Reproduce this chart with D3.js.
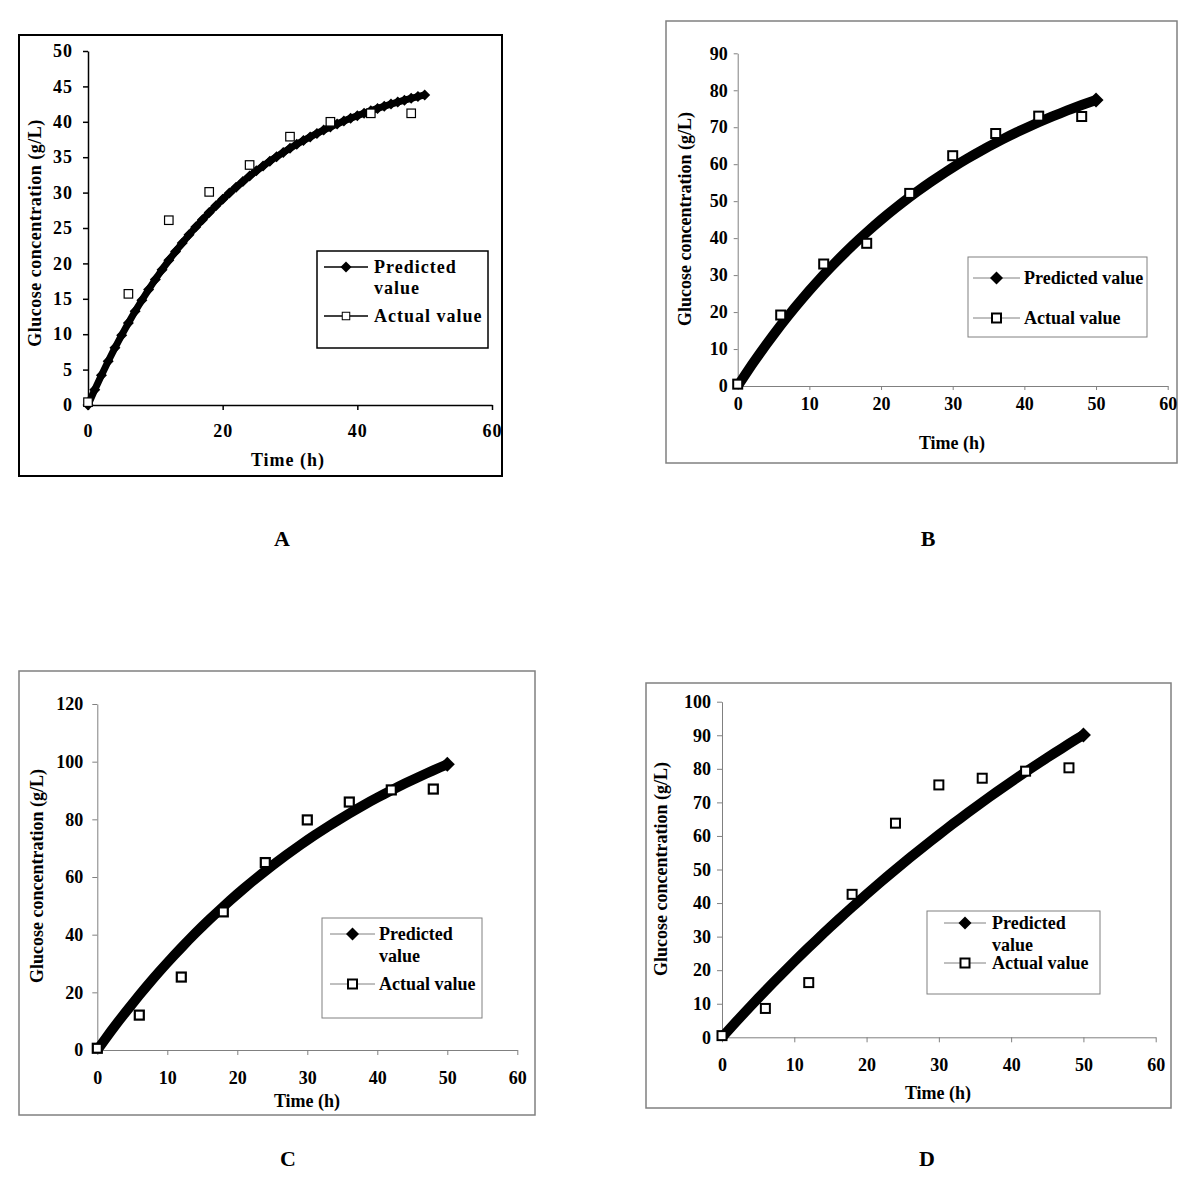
<!DOCTYPE html>
<html><head><meta charset="utf-8">
<script src="https://cdn.jsdelivr.net/npm/d3@7"></script>
<style>
body{margin:0;background:#fff}
svg{display:block}
text{font-family:"Liberation Serif","Times New Roman",serif;font-weight:bold;fill:#000}
</style>
</head><body>
<svg id="c" width="1200" height="1195"></svg>
<script>
// ---------- data ----------
const hours = [0,1,2,3,4,5,6,7,8,9,10,11,12,13,14,15,16,17,18,19,20,21,22,23,24,25,26,27,28,29,30,31,32,33,34,35,36,37,38,39,40,41,42,43,44,45,46,47,48,49,50];
const predA = [0,2.15,4.21,6.18,8.07,9.86,11.58,13.23,14.80,16.30,17.74,19.12,20.43,21.68,22.88,24.03,25.13,26.18,27.18,28.14,29.05,29.93,30.77,31.57,32.33,33.07,33.76,34.43,35.07,35.68,36.27,36.83,37.36,37.87,38.36,38.83,39.27,39.70,40.10,40.49,40.87,41.22,41.56,41.89,42.20,42.50,42.78,43.05,43.31,43.56,43.80];
const predB = [0,2.94,5.80,8.57,11.26,13.87,16.41,18.87,21.25,23.57,25.81,28.00,30.11,32.16,34.16,36.09,37.97,39.79,41.56,43.27,44.94,46.55,48.12,49.64,51.12,52.55,53.94,55.29,56.60,57.87,59.11,60.30,61.46,62.59,63.69,64.75,65.78,66.78,67.75,68.69,69.60,70.49,71.35,72.18,72.99,73.78,74.54,75.28,76.00,76.70,77.38];
const predC = [0,3.36,6.65,9.85,12.98,16.03,19.02,21.93,24.77,27.55,30.26,32.90,35.48,38.01,40.47,42.87,45.22,47.51,49.74,51.93,54.06,56.14,58.17,60.15,62.09,63.98,65.82,67.63,69.38,71.10,72.78,74.42,76.01,77.57,79.10,80.58,82.04,83.45,84.84,86.19,87.51,88.79,90.05,91.28,92.48,93.64,94.79,95.90,96.99,98.05,99.09];
const predD = [0,2.38,4.73,7.06,9.36,11.63,13.87,16.09,18.28,20.45,22.58,24.69,26.78,28.84,30.88,32.90,34.89,36.85,38.80,40.72,42.61,44.48,46.34,48.17,49.97,51.76,53.52,55.27,56.99,58.69,60.37,62.04,63.68,65.30,66.90,68.49,70.05,71.60,73.13,74.64,76.13,77.60,79.06,80.50,81.92,83.32,84.71,86.08,87.44,88.78,90.10];

const sampleHours = [0,6,12,18,24,30,36,42,48];
const actualA = [0.4,15.7,26.1,30.1,33.9,37.9,40.0,41.2,41.2];
const actualB = [0.5,19.2,33.0,38.6,52.1,62.3,68.3,73.0,72.9];
const actualC = [0.6,12.1,25.3,47.9,65.0,79.8,86.0,90.2,90.5];
const actualD = [0.5,8.6,16.3,42.6,63.8,75.2,77.2,79.3,80.3];

const xTicksA = [0,20,40,60];
const xTicksBCD = [0,10,20,30,40,50,60];
const yTicksA = [0,5,10,15,20,25,30,35,40,45,50];
const yTicksB = [0,10,20,30,40,50,60,70,80,90];
const yTicksC = [0,20,40,60,80,100,120];
const yTicksD = [0,10,20,30,40,50,60,70,80,90,100];

const yTitle = "Glucose concentration (g/L)";
const xTitle = "Time (h)";
const legendTwoLine = [["Predicted","value"],["Actual value"]];
const legendOneLine = [["Predicted value"],["Actual value"]];
const panelLabels = ["A","B","C","D"];

// ---------- layout ----------
const GRAY = "#808080";
const panels = [
  {label:panelLabels[0], pred:predA, actual:actualA, xTicks:xTicksA, yTicks:yTicksA,
   frame:[19,35,483,441], frameColor:"#000", frameWidth:2,
   plot:{l:88,r:492,t:51,b:405}, axisColor:"#000", axisWidth:1.5,
   tick:5, xPad:14, yPad:10, font:18, ls:1,
   yT:[35,233], xT:[288,460], lab:[282,538],
   dots:true, lineW:7, endD:5.5, sq:8.5, sqW:1.2,
   leg:{box:[317,251,171,97], color:"#000", w:1.5, line:[324,368], lineColor:"#000", lineW:1.5,
        diamond:5.5, sq:7.5, sqW:1, tx:374, labels:legendTwoLine, rows:[[267,288],[316]], ls:1}},
  {label:panelLabels[1], pred:predB, actual:actualB, xTicks:xTicksBCD, yTicks:yTicksB,
   frame:[666,21,511,442], frameColor:GRAY, frameWidth:1.5,
   plot:{l:737.7,r:1167.7,t:53.3,b:386}, axisColor:GRAY, axisWidth:1,
   tick:4, xPad:7, yPad:6, font:18, ls:0,
   yT:[685,219], xT:[952,443], lab:[928,538],
   dots:false, lineW:10, endD:7.5, sq:9, sqW:2,
   leg:{box:[968,257,179,80], color:GRAY, w:1, line:[973,1020], lineColor:GRAY, lineW:1,
        diamond:6.5, sq:9, sqW:2, tx:1024, labels:legendOneLine, rows:[[278],[318]], ls:0}},
  {label:panelLabels[2], pred:predC, actual:actualC, xTicks:xTicksBCD, yTicks:yTicksC,
   frame:[19,671,516,444], frameColor:GRAY, frameWidth:1.5,
   plot:{l:97.3,r:517.3,t:704,b:1050}, axisColor:GRAY, axisWidth:1,
   tick:5, xPad:16, yPad:9, font:18, ls:0,
   yT:[37,876], xT:[307,1101], lab:[288,1158],
   dots:false, lineW:10, endD:7.5, sq:9, sqW:2.2,
   leg:{box:[322,918,160,100], color:GRAY, w:1, line:[330,375], lineColor:GRAY, lineW:1,
        diamond:6.5, sq:9, sqW:2, tx:379, labels:legendTwoLine, rows:[[934,956],[984]], ls:0}},
  {label:panelLabels[3], pred:predD, actual:actualD, xTicks:xTicksBCD, yTicks:yTicksD,
   frame:[646,683,525,425], frameColor:GRAY, frameWidth:1.5,
   plot:{l:722,r:1155.7,t:701.7,b:1037.3}, axisColor:GRAY, axisWidth:1,
   tick:5, xPad:16, yPad:6, font:18, ls:0,
   yT:[661,869], xT:[938,1093], lab:[927,1158],
   dots:false, lineW:10, endD:7.5, sq:9, sqW:2,
   leg:{box:[927,911,173,83], color:GRAY, w:1, line:[944,986], lineColor:GRAY, lineW:1,
        diamond:6.5, sq:9, sqW:2, tx:992, labels:legendTwoLine, rows:[[923,945],[963]], ls:0}}
];

const svg = d3.select("#c");
const diamondPath = r => `M0,${-r}L${r},0L0,${r}L${-r},0Z`;

panels.forEach((p,pi) => {
  const g = svg.append("g");
  // frame
  g.append("rect").attr("x",p.frame[0]).attr("y",p.frame[1]).attr("width",p.frame[2]).attr("height",p.frame[3])
    .attr("fill","none").attr("stroke",p.frameColor).attr("stroke-width",p.frameWidth);

  const x = d3.scaleLinear().domain([0,60]).range([p.plot.l,p.plot.r]);
  const yMax = p.yTicks[p.yTicks.length-1];
  const y = d3.scaleLinear().domain([0,yMax]).range([p.plot.b,p.plot.t]);

  const xa = g.append("g").attr("transform",`translate(0,${p.plot.b})`)
    .call(d3.axisBottom(x).tickValues(p.xTicks).tickSize(p.tick).tickSizeOuter(0).tickPadding(p.xPad).tickFormat(d3.format("d")));
  const ya = g.append("g").attr("transform",`translate(${p.plot.l},0)`)
    .call(d3.axisLeft(y).tickValues(p.yTicks).tickSize(p.tick).tickSizeOuter(0).tickPadding(p.yPad).tickFormat(d3.format("d")));
  [xa,ya].forEach(a => {
    a.select(".domain").attr("stroke",p.axisColor).attr("stroke-width",p.axisWidth);
    a.selectAll(".tick line").attr("stroke",p.axisColor).attr("stroke-width",p.axisWidth);
    a.selectAll(".tick text").attr("fill","#000")
      .style("font-family",'"Liberation Serif","Times New Roman",serif').style("font-weight","bold")
      .style("font-size",p.font+"px").style("letter-spacing",p.ls+"px");
  });

  // titles
  g.append("text").attr("transform",`translate(${p.yT[0]},${p.yT[1]}) rotate(-90)`)
    .attr("text-anchor","middle").attr("dominant-baseline","central")
    .style("font-size","18px").style("letter-spacing",p.ls*0.5+"px").text(yTitle);
  g.append("text").attr("x",p.xT[0]).attr("y",p.xT[1]).attr("text-anchor","middle").attr("dominant-baseline","central")
    .style("font-size","18px").style("letter-spacing",p.ls+"px").text(xTitle);
  g.append("text").attr("x",p.lab[0]).attr("y",p.lab[1]).attr("text-anchor","middle").attr("dominant-baseline","central")
    .style("font-size","22px").text(p.label);

  // predicted series
  const predPts = hours.map((h,i)=>[h,p.pred[i]]);
  const line = d3.line().x(d=>x(d[0])).y(d=>y(d[1]));
  g.append("path").datum(predPts).attr("d",line).attr("fill","none")
    .attr("stroke","#000").attr("stroke-width",p.lineW).attr("stroke-linejoin","round");
  const markPts = p.dots ? predPts : [predPts[predPts.length-1]];
  g.selectAll(null).data(markPts).enter().append("path")
    .attr("transform",d=>`translate(${x(d[0])},${y(d[1])})`).attr("d",diamondPath(p.endD)).attr("fill","#000");

  // actual series
  const actPts = sampleHours.map((h,i)=>[h,p.actual[i]]);
  g.selectAll(null).data(actPts).enter().append("rect")
    .attr("x",d=>x(d[0])-p.sq/2).attr("y",d=>y(d[1])-p.sq/2).attr("width",p.sq).attr("height",p.sq)
    .attr("fill","#fff").attr("stroke","#000").attr("stroke-width",p.sqW);

  // legend
  const L = p.leg;
  g.append("rect").attr("x",L.box[0]).attr("y",L.box[1]).attr("width",L.box[2]).attr("height",L.box[3])
    .attr("fill","#fff").attr("stroke",L.color).attr("stroke-width",L.w);
  const mx = (L.line[0]+L.line[1])/2;
  L.rows.forEach((r,ri) => {
    const yy = r[0];
    g.append("line").attr("x1",L.line[0]).attr("x2",L.line[1]).attr("y1",yy).attr("y2",yy)
      .attr("stroke",L.lineColor).attr("stroke-width",L.lineW);
    if (ri===0) {
      g.append("path").attr("transform",`translate(${mx},${yy})`).attr("d",diamondPath(L.diamond)).attr("fill","#000");
    } else {
      g.append("rect").attr("x",mx-L.sq/2).attr("y",yy-L.sq/2).attr("width",L.sq).attr("height",L.sq)
        .attr("fill","#fff").attr("stroke","#000").attr("stroke-width",L.sqW);
    }
    L.labels[ri].forEach((t,ti) => {
      g.append("text").attr("x",L.tx).attr("y",r[ti]).attr("dominant-baseline","central")
        .style("font-size","18px").style("letter-spacing",L.ls+"px").text(t);
    });
  });
});
</script>
</body></html>
